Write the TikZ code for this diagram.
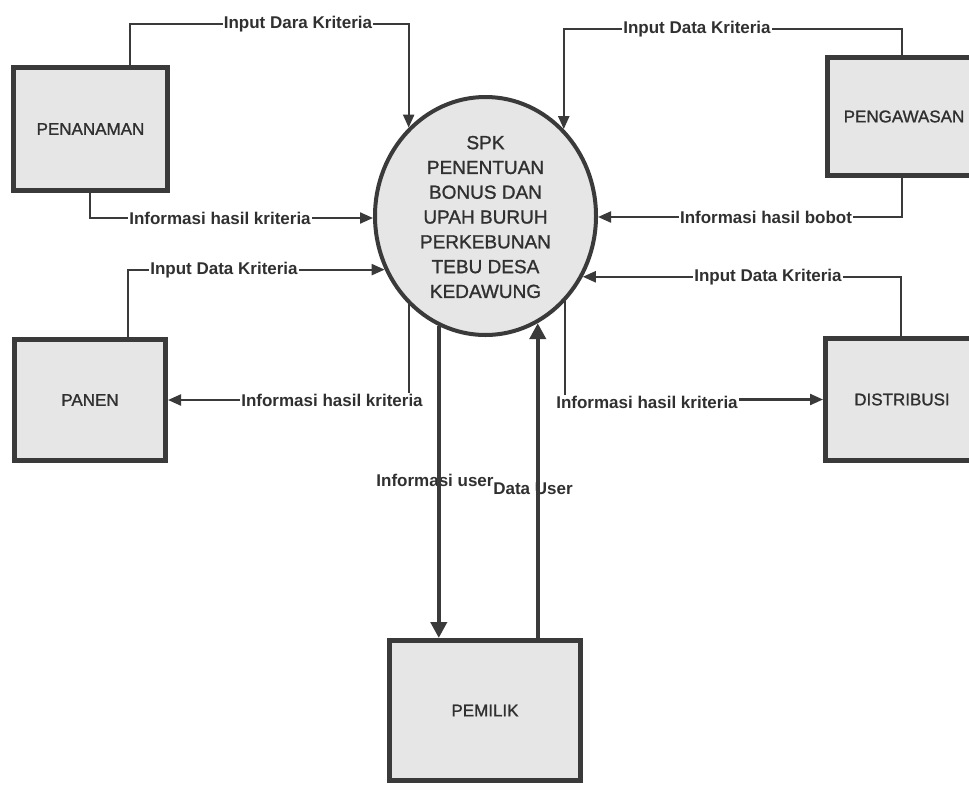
\documentclass[tikz,border=0pt]{standalone}
\usepackage{fontspec}
\setmainfont{Liberation Sans}
\newfontfamily\heavyfont[FakeBold=1.2]{Liberation Sans}
\usetikzlibrary{arrows.meta,shapes.geometric}
\definecolor{ln}{HTML}{3A3A3A}
\definecolor{fl}{HTML}{E6E6E6}
\definecolor{tx}{HTML}{303030}
\begin{document}
\begin{tikzpicture}[x=1pt,y=-1pt,
  entity/.style={draw=ln,fill=fl,line width=5pt,rectangle,text=tx,
    font=\heavyfont\fontsize{17}{20}\selectfont},
  proc/.style={draw=ln,fill=fl,line width=4pt,ellipse,inner sep=0pt,
    minimum width=221pt,minimum height=238pt},
  flow/.style={draw=ln,line width=2.2pt,-{Triangle[length=13pt,width=11pt]}},
  bigflow/.style={draw=ln,line width=4pt,-{Triangle[length=16pt,width=16pt]}},
  lab/.style={fill=white,inner sep=1pt,text=tx,
    font=\bfseries\fontsize{17}{18}\selectfont},
  labnf/.style={inner sep=1pt,text=tx,
    font=\bfseries\fontsize{17}{18}\selectfont}]
\useasboundingbox (0,0) rectangle (969,785);
\fill[white] (0,0) rectangle (969,785);

% labels under the thick lines
\node[labnf] (l5) at (435,480) {Informasi user};
\node[labnf] (l6) at (533,489) {Data User};

% nodes
\node[proc] (c) at (485.5,216) {};
\node[align=center,text=tx,font=\heavyfont\fontsize{19}{24.8}\selectfont] (ct) at (485.5,217)
  {SPK\\PENENTUAN\\BONUS DAN\\UPAH BURUH\\PERKEBUNAN\\TEBU DESA\\KEDAWUNG};
\node[entity,minimum width=154pt,minimum height=123pt] (pen) at (90.5,129) {PENANAMAN};
\node[entity,minimum width=151pt,minimum height=121pt] (panen) at (90,400) {PANEN};
\node[entity,minimum width=153pt,minimum height=118pt] (peng) at (904,116.5) {PENGAWASAN};
\node[entity,minimum width=153pt,minimum height=122pt] (dist) at (902,399.5) {DISTRIBUSI};
\node[entity,minimum width=191pt,minimum height=140pt] (pem) at (485,710.5) {PEMILIK};

% bend points
\coordinate (k1) at (130,24);
\coordinate (k2) at (90,218);
\coordinate (k3) at (128,270);
\coordinate (k7) at (902,29);
\coordinate (k8) at (902,217);
\coordinate (k9) at (901,277);

% connectors
\draw[flow] (pen.north -| k1) -- (k1) -| (c.131.5);
\draw[flow] (pen.south -| k2) -- (k2) -- (k2 -| c.west);
\draw[flow] (panen.north -| k3) |- (c.208.2);
\draw[flow] (c.-131.5) |- (panen.east);
\draw[flow] (peng.north -| k7) -- (k7) -| (c.48.5);
\draw[flow] (peng.south -| k8) -- (k8) -- (k8 -| c.east);
\draw[flow] (dist.north -| k9) |- (c.-32.1);
\draw[flow] (c.-47.1) |- (dist.west);
\draw[bigflow] (c.-113.4) -- (c.-113.4 |- pem.north);
\draw[bigflow] (pem.north -| c.-64.4) -- (c.-64.4);

% labels
\node[lab] (l1) at (298,24) {Input Dara Kriteria};
\node[lab] (l2) at (220,218) {Informasi hasil kriteria};
\node[lab] (l3) at (224,270) {Input Data Kriteria};
\node[lab] (l4) at (332,400) {Informasi hasil kriteria};
\node[lab] (l7) at (697,29) {Input Data Kriteria};
\node[lab] (l8) at (766,217) {Informasi hasil bobot};
\node[lab] (l9) at (768,277) {Input Data Kriteria};
\node[lab] (l10) at (647,402) {Informasi hasil kriteria};
\end{tikzpicture}
\end{document}
